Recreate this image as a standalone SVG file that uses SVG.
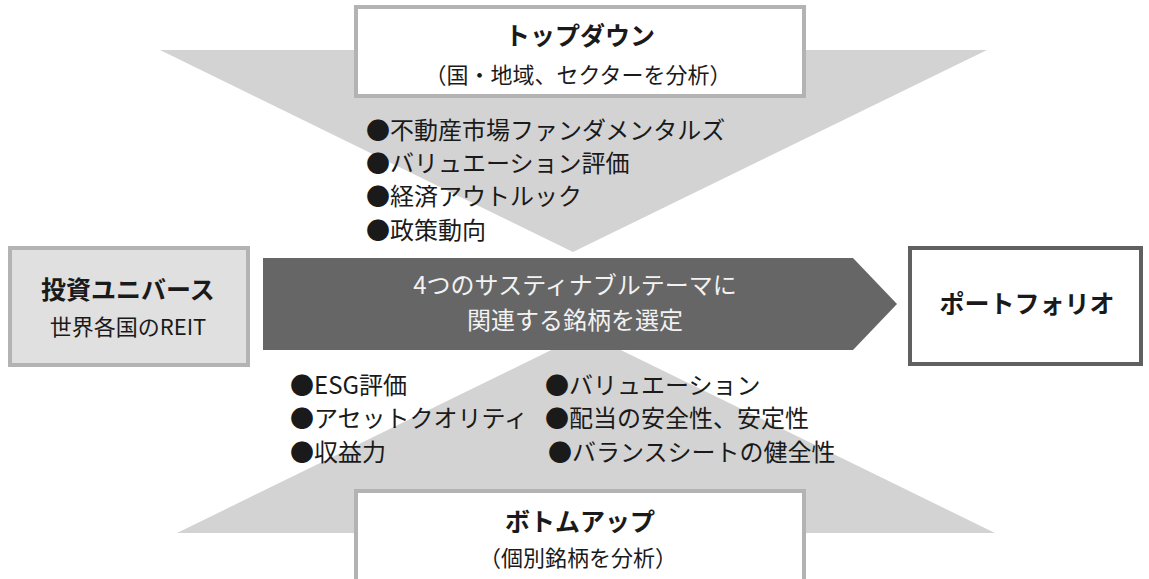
<svg xmlns="http://www.w3.org/2000/svg" width="1149" height="579" viewBox="0 0 1149 579">
<style>
text{font-family:"Noto Sans CJK JP","Noto Sans",sans-serif;fill:#1a1a1a}
.tri{fill:#d3d3d3}
.box{fill:#ffffff;stroke:#b3b3b3;stroke-width:4}
.title{font-size:25px;font-weight:bold;text-anchor:middle}
.sub{font-size:22px;text-anchor:middle}
.bul{font-size:24px}
.arrowtxt{font-size:24px;fill:#f2f2f2;text-anchor:middle}
</style>
<rect width="1149" height="579" fill="#ffffff"/>
<g id="topdown-funnel">
<polygon class="tri" points="160,50 987,50 573,252"/>
</g>
<g id="bottomup-funnel">
<polygon class="tri" points="177,533 995,533 586,333"/>
</g>
<g id="topdown">
<rect class="box" x="356" y="7" width="448" height="89"/>
<text class="title" x="580" y="45">トップダウン</text>
<text class="sub" x="578" y="83">（国・地域、セクターを分析）</text>
</g>
<g id="topdown-items">
<text class="bul" x="366" y="139">●不動産市場ファンダメンタルズ</text>
<text class="bul" x="366" y="172">●バリュエーション評価</text>
<text class="bul" x="366" y="205">●経済アウトルック</text>
<text class="bul" x="366" y="239">●政策動向</text>
</g>
<g id="universe">
<rect x="10" y="248" width="238" height="117" fill="#e0e0e0" stroke="#b3b3b3" stroke-width="4"/>
<text class="title" x="128" y="299">投資ユニバース</text>
<text class="sub" x="128" y="335">世界各国のREIT</text>
</g>
<g id="connectors">
<polygon points="263,258 853,258 897,304 853,350 263,350" fill="#666666"/>
<text class="arrowtxt" x="575" y="294">4つのサスティナブルテーマに</text>
<text class="arrowtxt" x="575" y="329">関連する銘柄を選定</text>
</g>
<g id="portfolio">
<rect x="910" y="248" width="231" height="116" fill="#ffffff" stroke="#606060" stroke-width="4"/>
<text class="title" x="1027" y="313">ポートフォリオ</text>
</g>
<g id="bottomup-items">
<text class="bul" x="290" y="394">●ESG評価</text>
<text class="bul" x="290" y="427">●アセットクオリティ</text>
<text class="bul" x="290" y="461">●収益力</text>
<text class="bul" x="545" y="394">●バリュエーション</text>
<text class="bul" x="545" y="427">●配当の安全性、安定性</text>
<text class="bul" x="548" y="461">●バランスシートの健全性</text>
</g>
<g id="bottomup">
<rect class="box" x="356" y="491" width="448" height="100"/>
<text class="title" x="580" y="531">ボトムアップ</text>
<text class="sub" x="578" y="566">（個別銘柄を分析）</text>
</g>
</svg>
